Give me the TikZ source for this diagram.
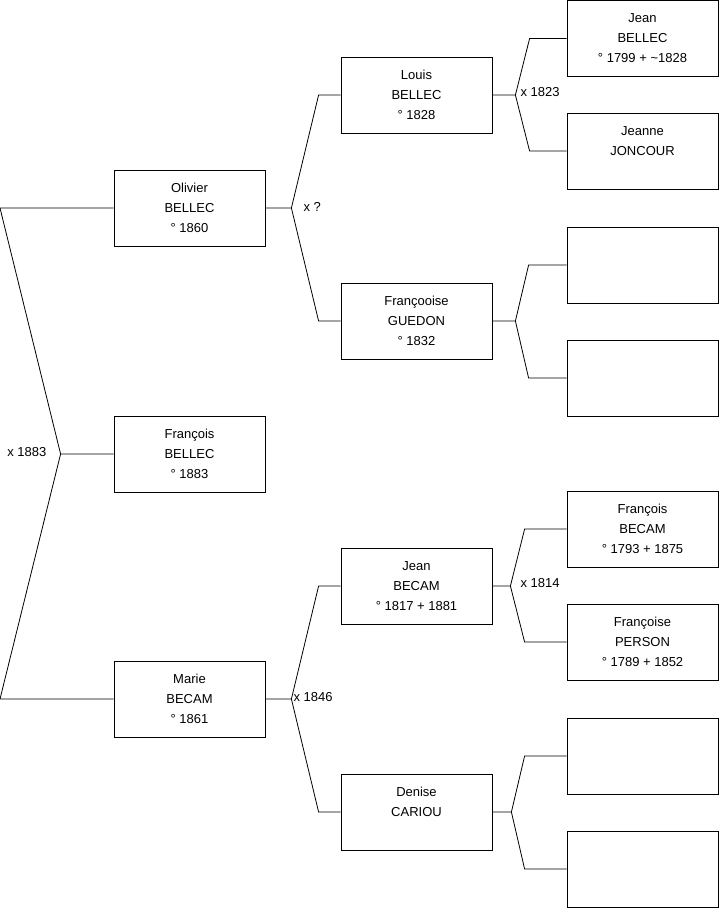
\documentclass[tikz,border=0pt]{standalone}
\usepackage{fontspec}
\setmainfont{Liberation Sans}
\usetikzlibrary{positioning}

\begin{document}
\begin{tikzpicture}[
  x=1pt, y=-1pt,
  person/.style={draw, line width=0.8pt, minimum width=151pt, minimum height=76pt, align=center, inner sep=0pt, font=\fontsize{13}{20}\selectfont},
  link/.style={line width=0.8pt},
  union/.style={inner sep=0pt, anchor=west, font=\fontsize{13}{16}\selectfont},
]
\useasboundingbox (0,0) rectangle (719,908);
\coordinate (left) at (0,0);
% --- generation 1 (left column) ---
\node[person] (olivier) at (189.5,208) {Olivier\\BELLEC\\° 1860};
\node[person] (francois) at (189.5,454) {François\\BELLEC\\° 1883};
\node[person] (marie) at (189.5,699) {Marie\\BECAM\\° 1861};
% --- generation 2 (middle column) ---
\node[person] (louis) at (416.5,95) {Louis\\BELLEC\\° 1828};
\node[person] (francooise) at (416.5,321) {Françooise\\GUEDON\\° 1832};
\node[person] (jeanBecam) at (416.5,586) {Jean\\BECAM\\° 1817 + 1881};
\node[person] (denise) at (416.5,812) {Denise\\CARIOU\\\mbox{}};
% --- generation 3 (right column) ---
\node[person] (jeanBellec) at (642.5,38.5) {Jean\\BELLEC\\° 1799 + \textasciitilde 1828};
\node[person] (jeanneJoncour) at (642.5,151) {Jeanne\\JONCOUR\\\mbox{}};
\node[person] (guedonFather) at (642.5,265) {};
\node[person] (guedonMother) at (642.5,378) {};
\node[person] (francoisBecam) at (642.5,529) {François\\BECAM\\° 1793 + 1875};
\node[person] (francoisePerson) at (642.5,642) {Françoise\\PERSON\\° 1789 + 1852};
\node[person] (cariouFather) at (642.5,756) {};
\node[person] (cariouMother) at (642.5,869) {};
% --- marriages ---
\draw[link] (olivier.west) -- (olivier.west -| left) -- ([xshift=-53pt]francois.west) coordinate (m0) -- (francois.west);
\draw[link] (m0) -- (marie.west -| left) -- (marie.west);
\node[union, anchor=east] (u0) at ([xshift=-14pt,yshift=2pt]m0) {x 1883};
\draw[link] (olivier.east) -- ++(26,0) coordinate (m1) -- ([xshift=-22pt]louis.west) -- (louis.west);
\draw[link] (m1) -- ([xshift=-22pt]francooise.west) -- (francooise.west);
\node[union] (u1) at ([xshift=12pt,yshift=1pt]m1) {x ?};
\draw[link] (marie.east) -- ++(26,0) coordinate (m2) -- ([xshift=-22pt]jeanBecam.west) -- (jeanBecam.west);
\draw[link] (m2) -- ([xshift=-22pt]denise.west) -- (denise.west);
\node[union] (u2) at ([xshift=2pt,yshift=2pt]m2) {x 1846};
\draw[link] (louis.east) -- ++(23,0) coordinate (m3) -- ([xshift=-37pt]jeanBellec.west) -- (jeanBellec.west);
\draw[link] (m3) -- ([xshift=-37pt]jeanneJoncour.west) -- (jeanneJoncour.west);
\node[union] (u3) at ([xshift=5pt,yshift=3pt]m3) {x 1823};
\draw[link] (francooise.east) -- ++(23,0) coordinate (m4) -- ([xshift=-38pt]guedonFather.west) -- (guedonFather.west);
\draw[link] (m4) -- ([xshift=-38pt]guedonMother.west) -- (guedonMother.west);
\draw[link] (jeanBecam.east) -- ++(18,0) coordinate (m5) -- ([xshift=-42pt]francoisBecam.west) -- (francoisBecam.west);
\draw[link] (m5) -- ([xshift=-42pt]francoisePerson.west) -- (francoisePerson.west);
\node[union] (u5) at ([xshift=10pt,yshift=3pt]m5) {x 1814};
\draw[link] (denise.east) -- ++(19,0) coordinate (m6) -- ([xshift=-42pt]cariouFather.west) -- (cariouFather.west);
\draw[link] (m6) -- ([xshift=-42pt]cariouMother.west) -- (cariouMother.west);
\end{tikzpicture}
\end{document}
